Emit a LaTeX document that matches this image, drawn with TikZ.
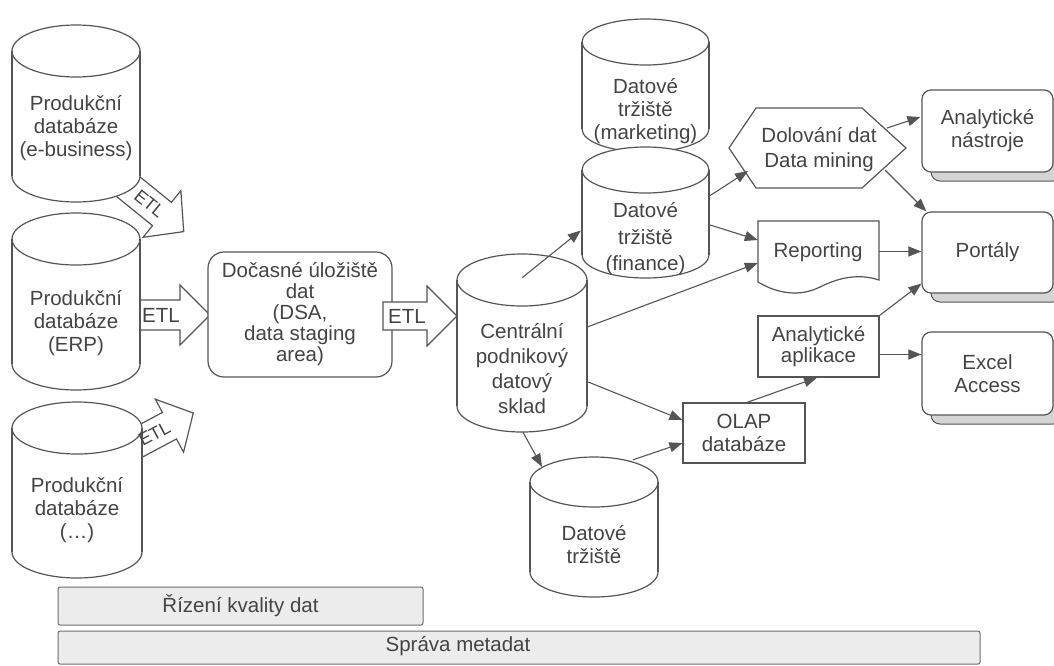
\documentclass[tikz,border=0pt]{standalone}
\usepackage{fontspec}
\setmainfont{Liberation Sans}
\usetikzlibrary{arrows.meta,calc}
\definecolor{lc}{RGB}{85,85,85}
\definecolor{tc}{RGB}{68,68,68}
\definecolor{barfill}{RGB}{236,236,236}
\definecolor{shadowfill}{RGB}{212,212,212}
\tikzset{
  ln/.style={draw=lc, line width=1.2pt},
  txt/.style={text=tc, font=\fontsize{20.5}{23}\selectfont, align=center, inner sep=0pt},
  conn/.style={draw=lc, line width=1.1pt, -{Triangle[length=13pt,width=10pt]}},
  boxnode/.style={ln, fill=white, inner sep=0pt, txt},
  barnode/.style={draw=lc!85, line width=1pt, fill=barfill, rounded corners=2pt, inner sep=0pt, txt},
  hold/.style={draw=none, inner sep=0pt}
}
% cylinder: name, x1, x2, ytop, ybot, ry, text y, text, baselineskip
\newcommand{\dbcyl}[9]{%
  \pgfmathsetmacro{\cylcx}{(#2+#3)/2}%
  \pgfmathsetmacro{\cylrx}{(#3-#2)/2}%
  \pgfmathsetmacro{\cylya}{#4+#6}%
  \pgfmathsetmacro{\cylyb}{#5-#6}%
  \fill[white] (#2,\cylya) rectangle (#3,\cylyb);
  \fill[white] (\cylcx,\cylyb) ellipse[x radius=\cylrx, y radius=#6];
  \fill[white] (\cylcx,\cylya) ellipse[x radius=\cylrx, y radius=#6];
  \begin{scope}
    \clip ({#2-3},\cylyb) rectangle ({#3+3},{#5+3});
    \draw[ln] (\cylcx,\cylyb) ellipse[x radius=\cylrx, y radius=#6];
  \end{scope}
  \draw[ln] (#2,\cylya) -- (#2,\cylyb) (#3,\cylya) -- (#3,\cylyb);
  \draw[ln] (\cylcx,\cylya) ellipse[x radius=\cylrx, y radius=#6];
  \node[hold, minimum width={(#3-#2)*1pt}, minimum height={(#5-#4)*1pt}] (#1) at (\cylcx,{(#4+#5)/2}) {};
  \node[txt, font=\fontsize{20.5}{#9}\selectfont] (#1-t) at (\cylcx,#7) {#8};
}
% ETL block arrow body: tail x, tail y, angle, length, head length, shaft half width
\newcommand{\etlbody}[6]{%
  \begin{scope}[shift={(#1,#2)}, rotate=#3]
    \draw[ln, fill=white] (0,-#6) -- ({#4-#5},-#6) -- ({#4-#5},-30) -- (#4,0) -- ({#4-#5},30) -- ({#4-#5},#6) -- (0,#6) -- cycle;
  \end{scope}
}
% ETL label: name, tail x, tail y, angle, distance from tail, font size
\newcommand{\etltext}[6]{%
  \begin{scope}[shift={(#2,#3)}, rotate=#4]
    \node[txt, rotate=#4, font=\fontsize{#6}{#6}\selectfont] (#1) at (#5,0) {ETL};
  \end{scope}
}
% stacked rounded box: name, x1, x2, y1, y2, text
\newcommand{\stackbox}[6]{%
  \draw[draw=lc, line width=1pt, fill=shadowfill, rounded corners=9pt] ({#2+9},{#4+9}) rectangle ({#3+9},{#5+9});
  \node[boxnode, rounded corners=9pt, minimum width={(#3-#2)*1pt}, minimum height={(#5-#4)*1pt}] (#1) at ({(#2+#3)/2},{(#4+#5)/2}) {#6};
}
\begin{document}
\begin{tikzpicture}[x=1pt, y=-1pt]
\useasboundingbox (0,0) rectangle (1054,665);
\fill[white] (0,0) rectangle (1054,665);

% ETL arrows behind the source cylinders
\etlbody{120}{180}{-39}{82}{28}{15}
\etlbody{136}{315}{0}{74}{30}{15}
\etlbody{120}{452}{28}{83}{27}{15}

% source databases
\dbcyl{prod1}{12}{140}{25}{202}{26}{128}{Produkční\\databáze\\(e-business)}{23}
\dbcyl{prod2}{12}{140}{213}{390}{26}{323}{Produkční\\databáze\\(ERP)}{23}
\dbcyl{prod3}{12}{142}{402}{578}{26}{510}{Produkční\\databáze\\(\dots)}{23}

\etltext{etl1}{120}{180}{-39}{38}{18}
\etltext{etl2}{136}{315}{0}{25}{20.5}
\etltext{etl3}{120}{452}{28}{39}{18}

% staging area
\node[boxnode, rounded corners=16pt, minimum width=184pt, minimum height=125pt,
      font=\fontsize{20.5}{21}\selectfont] (dsa) at (300,314.5)
      {Dočasné úložiště\\dat\\(DSA,\\data staging\\area)};
\etlbody{383}{316}{0}{74}{30}{14}
\etltext{etl4}{383}{316}{0}{24}{20.5}

% warehouse and marts
\dbcyl{cen}{457}{587}{254}{432}{26}{369}{Centrální\\podnikový\\datový\\sklad}{25}
\dbcyl{mkt}{582}{709}{19}{152}{23}{111}{Datové\\tržiště\\(marketing)}{23}
\dbcyl{fin}{582}{709}{147}{278}{23}{239}{Datové\\tržiště\\(finance)}{26.5}
\dbcyl{dt}{530}{658}{457}{597}{25}{545}{Datové\\tržiště}{23}

% data mining hexagon
\draw[ln, fill=white] (729,148) -- (756,108) -- (862,108) -- (906,148) -- (862,188) -- (756,188) -- cycle;
\node[hold, minimum width=177pt, minimum height=80pt] (hex) at (818,148) {};
\node[txt, font=\fontsize{20.5}{25}\selectfont] (hex-t) at (819,150) {Dolování dat\\Data mining};

% reporting document
\draw[ln, fill=white] (758,221) -- (879,221) -- (879,280)
  .. controls (858,273) and (838,278) .. (820,287)
  .. controls (800,297) and (778,294) .. (758,282) -- cycle;
\node[hold, minimum width=121pt, minimum height=61pt] (rep) at (818.5,251.5) {};
\node[txt] (rep-t) at (818,252) {Reporting};

% rectangles
\node[boxnode, minimum width=121pt, minimum height=61pt, font=\fontsize{20.5}{21.5}\selectfont] (apl) at (818.5,346.5) {Analytické\\aplikace};
\node[boxnode, minimum width=122pt, minimum height=60pt] (olap) at (744,433) {OLAP\\databáze};

% right-hand stacked boxes
\stackbox{ana}{922}{1053}{90}{172}{Analytické\\nástroje}
\stackbox{portal}{922}{1053}{212}{293}{Portály}
\stackbox{excel}{922}{1053}{332}{415}{Excel\\Access}

% connectors
\draw[conn] ($(cen.north)+(0,24)$) -- ($(fin.west)+(-1,18)$);
\draw[conn] ($(fin.east)+(1,-17)$) -- ($(hex.center)+(-70,23)$);
\draw[conn] ($(fin.east)+(1,12.5)$) -- ($(rep.west)+(0,-11.5)$);
\draw[conn] ($(cen.east)+(0,-16)$) -- ($(rep.west)+(0,11.5)$);
\draw[conn] ($(hex.center)+(69,-20)$) -- ($(ana.west)+(-1,-14)$);
\draw[conn] ($(hex.center)+(67,22)$) -- ($(portal.north west)+(5,0)$);
\draw[conn] (rep.east) -- (rep.east -| portal.west);
\draw[conn] (apl.north east) -- ($(portal.south west)+(0,-10)$);
\draw[conn] ($(apl.east)+(0,8)$) -- ($(apl.east -| excel.west)+(0,8)$);
\draw[conn] ($(cen.east)+(1,39)$) -- ($(olap.west)+(0,-13)$);
\draw[conn] ($(cen.south)+(1,0)$) -- ($(dt.north)+(-52,10)$);
\draw[conn] ($(dt.north)+(39,3)$) -- ($(olap.west)+(0,10)$);
\draw[conn] ($(olap.north)+(3,0)$) -- ($(apl.south)+(-1.5,0)$);

% bottom bars
\node[barnode, minimum width=365pt, minimum height=38pt] (riz) at (240.5,606) {Řízení kvality dat};
\node[barnode, minimum width=922pt, minimum height=33pt] (spr) at (519,647.5) {};
\node[txt] (spr-t) at (458,646) {Správa metadat};
\end{tikzpicture}
\end{document}
